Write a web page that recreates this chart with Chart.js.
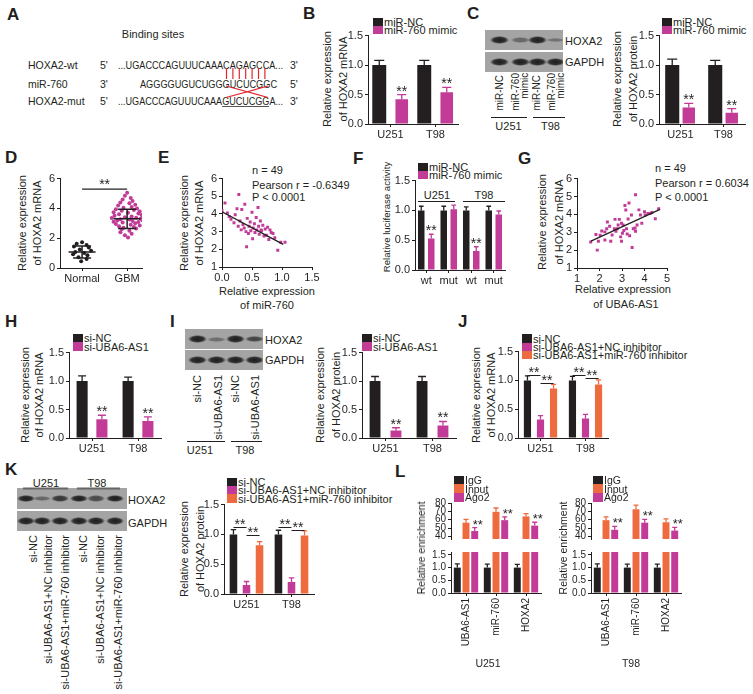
<!DOCTYPE html>
<html>
<head>
<meta charset="utf-8">
<script src="https://cdn.jsdelivr.net/npm/chart.js@4.4.1/dist/chart.umd.min.js"></script>
<style>
  html, body { margin: 0; background: #fff; }
  #fig { position: relative; width: 753px; height: 694px; overflow: hidden;
         font-family: "Liberation Sans", Arial, Helvetica, sans-serif; font-size: 11px; color: #231f20; }
  #fig canvas, #fig svg { position: absolute; left: 0; top: 0; }
  .t { position: absolute; white-space: nowrap; line-height: 1; transform: translateY(-50%); }
  .t.c { transform: translate(-50%, -50%); }
  .t.pl { font-size: 17px; font-weight: bold; }
  .v { position: absolute; white-space: nowrap; text-align: center; transform: translate(-50%, -50%) rotate(-90deg); }
  .lane { position: absolute; white-space: nowrap; writing-mode: vertical-rl; transform: rotate(180deg); text-align: end; }
  .key { position: absolute; width: 10px; }
  .blot { position: absolute; background: #a4a4a4; overflow: hidden; }
  .band { position: absolute; border-radius: 50%; }
</style>
</head>
<body>
<div id="fig"></div>
<script>
// ── Werte ───────────────────────────────────────────────────────────────────
const cellLines = ['U251', 'T98'];

// B: HOXA2 mRNA nach miR-760 mimic
const bNC = [1.0, 1.0], bNCErr = [0.08, 0.08];
const bMimic = [0.42, 0.54], bMimicErr = [0.08, 0.08];

// C: HOXA2 Protein nach miR-760 mimic
const cNC = [1.0, 1.0], cNCErr = [0.10, 0.08];
const cMimic = [0.28, 0.19], cMimicErr = [0.07, 0.07];

// D: Normal vs. GBM (Einzelwerte, dx = seitliche Streuung im Dotplot)
const dNormal   = [1.72, 1.62, 1.55, 1.45, 1.38, 1.25, 1.15, 1.08, 1.00, 0.92, 0.85, 0.72, 0.60, 0.45];
const dNormalDx = [0.00, -0.12, 0.10, -0.18, 0.15, -0.05, 0.20, -0.15, 0.05, -0.20, 0.12, -0.08, 0.10, -0.02];
const dGBM   = [5.05, 4.85, 4.70, 4.60, 4.50, 4.40, 4.35, 4.25, 4.20, 4.10, 4.05, 4.00, 3.95, 3.90, 3.85, 3.80,
                3.75, 3.70, 3.65, 3.60, 3.55, 3.50, 3.45, 3.40, 3.38, 3.35, 3.30, 3.28, 3.25, 3.20, 3.18, 3.15,
                3.10, 3.08, 3.05, 3.00, 2.95, 2.90, 2.85, 2.80, 2.75, 2.70, 2.65, 2.60, 2.50, 2.40, 2.30, 2.20, 2.05];
const dGBMDx = [0.00, -0.05, 0.08, -0.10, 0.12, -0.15, 0.05, 0.18, -0.20, 0.10, -0.08, 0.22, -0.25, 0.15, -0.12, 0.28,
                -0.30, 0.02, 0.25, -0.18, 0.32, -0.28, 0.10, -0.05, 0.20, -0.34, 0.30, -0.15, 0.05, 0.34, -0.22, 0.12,
                -0.30, 0.25, -0.10, 0.18, -0.25, 0.08, 0.28, -0.18, 0.15, -0.08, 0.20, -0.12, 0.05, -0.15, 0.10, -0.05, 0.02];
const dMean = [1.07, 3.30], dSD = [0.40, 0.65];
const dSigY = 5.3;

// E: miR-760 vs HOXA2 (n = 49)
const eMiR = [0.00, 0.05, 0.09, 0.12, 0.15, 0.20, 0.22, 0.25, 0.28, 0.27, 0.30, 0.32, 0.33, 0.35, 0.37, 0.38, 0.40,
              0.41, 0.42, 0.44, 0.45, 0.47, 0.48, 0.50, 0.51, 0.52, 0.54, 0.55, 0.57, 0.58, 0.60, 0.61, 0.62, 0.64,
              0.65, 0.66, 0.68, 0.70, 0.72, 0.74, 0.76, 0.78, 0.80, 0.82, 0.85, 0.88, 0.93, 0.98, 1.05];
const eHOX = [4.20, 4.62, 4.05, 3.85, 3.70, 3.50, 3.95, 4.30, 5.10, 3.30, 3.60, 3.10, 4.25, 3.40, 3.20, 4.55, 3.00,
              2.15, 3.75, 2.90, 3.30, 3.55, 3.05, 4.10, 2.60, 3.20, 3.45, 2.95, 3.80, 3.10, 4.37, 3.30, 2.85, 3.60,
              3.10, 3.05, 3.36, 2.75, 3.15, 2.80, 3.25, 2.55, 3.10, 2.95, 2.90, 2.65, 1.95, 2.40, 2.40];
const eFitX = [0, 1.02], eFitY = [4.12, 2.28];

// F: Luciferase
const fCats = ['wt', 'mut', 'wt', 'mut'];
const fNC = [1.0, 1.0, 1.0, 1.0], fNCErr = [0.07, 0.07, 0.06, 0.07];
const fMimic = [0.53, 1.02, 0.32, 0.93], fMimicErr = [0.07, 0.07, 0.07, 0.06];

// G: UBA6-AS1 vs HOXA2 (n = 49)
const gUBA = [1.61, 1.84, 1.90, 1.95, 2.10, 2.24, 2.24, 2.32, 2.35, 2.45, 2.50, 2.69, 2.73, 2.79, 2.83, 2.88, 2.94,
              2.98, 3.02, 3.05, 3.08, 3.13, 3.17, 3.20, 3.23, 3.27, 3.31, 3.34, 3.45, 3.50, 3.58, 3.60, 3.60, 3.67,
              3.75, 3.82, 3.88, 4.03, 4.15, 4.25, 4.33, 4.48, 4.63, 2.56, 2.66, 2.98, 2.03, 3.42, 4.00];
const gHOX = [2.46, 2.87, 2.00, 2.50, 3.07, 3.02, 2.56, 3.20, 3.57, 3.33, 2.50, 3.72, 3.05, 3.20, 3.40, 3.72, 2.74,
              2.50, 2.94, 3.40, 3.10, 4.50, 4.24, 3.20, 2.90, 3.74, 4.63, 2.80, 2.15, 3.20, 3.24, 3.05, 5.10, 3.40,
              4.25, 3.97, 3.50, 3.97, 4.05, 4.05, 4.10, 3.75, 4.32, 2.85, 3.20, 3.50, 2.83, 3.97, 4.15];
const gFitX = [1.62, 4.69], gFitY = [2.50, 4.28];

// H / I: si-UBA6-AS1
const hNC = [1.0, 1.0], hNCErr = [0.09, 0.07];
const hSi = [0.33, 0.30], hSiErr = [0.07, 0.07];
const iNC = [1.0, 1.0], iNCErr = [0.08, 0.08];
const iSi = [0.13, 0.22], iSiErr = [0.05, 0.07];

// J / K: Rescue mit miR-760 inhibitor
const jNC = [1.0, 1.0], jNCErr = [0.08, 0.07];
const jSiNC = [0.32, 0.34], jSiNCErr = [0.07, 0.07];
const jSiMiR = [0.86, 0.93], jSiMiRErr = [0.07, 0.08];
const jSig = [[0, 0, 1, 1.10], [0, 1, 2, 0.95], [1, 0, 1, 1.10], [1, 1, 2, 1.04]];   // [Kategorie, von, bis, Hoehe]
const kNC = [1.0, 1.0], kNCErr = [0.08, 0.07];
const kSiNC = [0.15, 0.20], kSiNCErr = [0.06, 0.07];
const kSiMiR = [0.82, 0.98], kSiMiRErr = [0.06, 0.08];
const kSig = [[0, 0, 1, 1.13], [0, 1, 2, 0.99], [1, 0, 1, 1.13], [1, 1, 2, 1.07]];

// L: RIP
const lTargets = ['UBA6-AS1', 'miR-760', 'HOXA2'];
const lU251IgG = [1, 1, 1], lU251IgGErr = [0.15, 0.14, 0.13];
const lU251Input = [56.5, 69.5, 64.0], lU251InputErr = [4.0, 4.5, 3.3];
const lU251Ago2 = [46.5, 59.5, 53.0], lU251Ago2Err = [4.0, 4.0, 4.0];
const lT98IgG = [1, 1, 1], lT98IgGErr = [0.15, 0.14, 0.14];
const lT98Input = [59.5, 72.5, 57.0], lT98InputErr = [4.0, 5.0, 4.0];
const lT98Ago2 = [48.0, 56.5, 47.0], lT98Ago2Err = [4.0, 4.0, 4.0];

// Western Blots: relative Bandenstaerke je Spur
const blotC = { HOXA2: [0.95, 0.45, 0.95, 0.38], GAPDH: [0.95, 0.95, 0.95, 0.95] };
const blotI = { HOXA2: [0.95, 0.40, 0.95, 0.70], GAPDH: [0.95, 0.95, 0.95, 0.95] };
const blotK = { HOXA2: [0.95, 0.45, 0.80, 0.95, 0.65, 0.95], GAPDH: [0.95, 0.95, 0.95, 0.95, 0.95, 0.95] };

// ── Stil ────────────────────────────────────────────────────────────────────
const INK = '#231f20', PINK = '#c13b97', ORNG = '#ee6b3f', RED = '#e3262c';
const FONT = '"Liberation Sans", Arial, Helvetica, sans-serif';
Chart.defaults.font.family = FONT;
Chart.defaults.font.size = 11;
Chart.defaults.color = INK;

const fig = document.getElementById('fig');

// ── Hilfen fuer Text und Deko ───────────────────────────────────────────────
function T(s, x, y, o = {}) {
  const d = document.createElement('div');
  d.className = 't' + (o.c ? ' c' : '') + (o.b ? ' pl' : '');
  d.style.left = x + 'px'; d.style.top = y + 'px';
  if (o.fs) d.style.fontSize = o.fs + 'px';
  d.innerHTML = s;
  fig.appendChild(d);
  if (o.w) {   // auf Zielbreite strecken (Sequenzen)
    const w = d.getBoundingClientRect().width;
    d.style.transformOrigin = 'left center';
    d.style.transform = `translateY(-50%) scaleX(${o.w / w})`;
  }
  return d;
}
function V(s, cx, cy, lh, fs = 11) {
  const d = document.createElement('div');
  d.className = 'v';
  d.style.cssText = `left:${cx}px;top:${cy}px;line-height:${lh}px;font-size:${fs}px`;
  d.innerHTML = s;
  fig.appendChild(d);
}
function lane(s, cx, ytop, fs, lh) {
  const parts = s.split('\n');
  const d = document.createElement('div');
  d.className = 'lane';
  d.style.cssText = `left:${cx - parts.length * lh / 2}px;top:${ytop}px;font-size:${fs}px;line-height:${lh}px`;
  d.innerHTML = parts.join('<br>');
  fig.appendChild(d);
}
function legend(x, y0, dy, items, fs = 11) {
  items.forEach(([col, s], i) => {
    const k = document.createElement('div');
    k.className = 'key';
    k.style.cssText = `left:${x}px;top:${y0 + i * dy - dy / 2}px;height:${dy}px;background:${col}`;
    fig.appendChild(k);
    T(s, x + 11, y0 + i * dy, { fs });
  });
}
function strip(x, y, w, h, centers, ks, bw) {
  const b = document.createElement('div');
  b.className = 'blot';
  b.style.cssText = `left:${x}px;top:${y}px;width:${w}px;height:${h}px`;
  centers.forEach((cx, i) => {
    const k = ks[i], bh = 3 + 5 * k;
    const e = document.createElement('div');
    e.className = 'band';
    e.style.cssText = `left:${cx - x - bw / 2}px;top:${h / 2 - bh / 2}px;width:${bw}px;height:${bh}px;` +
      `background:radial-gradient(ellipse at center, rgba(22,20,20,${k}) 0%, rgba(22,20,20,${k * 0.85}) 45%, rgba(22,20,20,0) 72%)`;
    b.appendChild(e);
  });
  fig.appendChild(b);
}

// ── Chart-Hilfen ────────────────────────────────────────────────────────────
// Fehlerbalken (nur nach oben), ** ueber dem Balken, Signifikanz-Klammern.
const marks = {
  id: 'marks',
  afterDatasetsDraw(ch, args, o) {
    const { ctx, chartArea: a, scales } = ch;
    ctx.save();
    // nur oben/unten beschneiden (gebrochene Achse), seitlich Platz fuer die Sterne
    if (o.clip) { ctx.beginPath(); ctx.rect(0, a.top - 1, ch.width, a.bottom - a.top + 1); ctx.clip(); }
    const star = (x, y) => {
      ctx.fillStyle = INK; ctx.font = `${o.starSize || 14}px ${FONT}`;
      ctx.textAlign = 'center'; ctx.textBaseline = 'alphabetic';
      ctx.fillText('**', x, y + 2);
    };
    ch.data.datasets.forEach((ds, i) => {
      if (!ds.err) return;
      ch.getDatasetMeta(i).data.forEach((b, j) => {
        const top = scales.y.getPixelForValue(ds.data[j] + ds.err[j]);
        const hw = b.width * 0.36;
        ctx.strokeStyle = ds.backgroundColor; ctx.lineWidth = 1.3;
        ctx.beginPath();
        ctx.moveTo(b.x, b.y); ctx.lineTo(b.x, top);
        ctx.moveTo(b.x - hw, top); ctx.lineTo(b.x + hw, top);
        ctx.stroke();
        if (ds.star && ds.star[j]) star(b.x + (o.starDx || 0), top - 1);
      });
    });
    (o.sig || []).forEach(([c, d1, d2, v]) => {
      const x1 = ch.getDatasetMeta(d1).data[c].x, x2 = ch.getDatasetMeta(d2).data[c].x;
      const y = Math.round(scales.y.getPixelForValue(v)) + 0.5;
      ctx.strokeStyle = INK; ctx.lineWidth = 1;
      ctx.beginPath(); ctx.moveTo(x1, y); ctx.lineTo(x2, y); ctx.stroke();
      star((x1 + x2) / 2, y - 1);
    });
    (o.stars || []).forEach(([x, v]) => star(scales.x.getPixelForValue(x), scales.y.getPixelForValue(v) - 2));
    ctx.restore();
  },
};

function axisStyle(fs) {
  return {
    grid: { display: true, drawOnChartArea: false, drawTicks: true, tickLength: 3, color: INK, lineWidth: 1, offset: false },
    border: { display: true, color: INK, width: 1 },
    ticks: { font: { size: fs, family: FONT }, color: INK, autoSkip: false },
  };
}

function plot(o) {
  const yw = o.yw ?? 26, xh = o.xh ?? 18, pt = o.pt ?? 8, pr = o.pr ?? 4, fs = o.fs || 11;
  const L = Math.round(o.ax - yw), Tp = Math.round(o.top - pt);
  const cv = document.createElement('canvas');
  cv.width = Math.round(o.right + pr - L);
  cv.height = Math.round(o.bot + xh - Tp);
  cv.style.left = L + 'px'; cv.style.top = Tp + 'px';
  fig.appendChild(cv);

  const xs = axisStyle(fs), ys = axisStyle(fs);
  const x = Object.assign(xs, { display: xh > 0, afterFit: s => { s.height = xh; } });
  x.ticks.padding = o.xPad ?? 1;
  if (o.x && o.x.type === 'linear') {
    Object.assign(x, { type: 'linear', min: o.x.min, max: o.x.max,
      afterBuildTicks: s => { s.ticks = o.x.ticks.map(v => ({ value: v })); } });
    x.ticks.callback = o.x.cb || (v => v.toFixed(o.x.dec ?? 0));
  } else {
    x.ticks.maxRotation = x.ticks.minRotation = (o.rot || 0);
  }
  const y = Object.assign(ys, { type: 'linear', min: o.y.min, max: o.y.max,
    afterFit: s => { s.width = yw; },
    afterBuildTicks: s => { s.ticks = o.y.ticks.map(v => ({ value: v })); } });
  y.ticks.padding = 2;
  y.ticks.callback = v => v.toFixed(o.y.dec ?? 0);

  return new Chart(cv, {
    type: o.type || 'bar',
    data: { labels: o.labels, datasets: o.sets },
    options: {
      responsive: false, animation: false, events: [],
      layout: { padding: { left: 0, top: pt, right: pr, bottom: 0 } },
      plugins: { legend: { display: false }, tooltip: { enabled: false }, marks: o.marks || {} },
      scales: { x, y },
    },
    plugins: [marks],
  });
}

function bars(data, err, col, cp, bp, star) {
  return { data, err, star, backgroundColor: col, borderWidth: 0,
           categoryPercentage: cp, barPercentage: bp, clip: 0 };
}
const pts = (xv, yv, col, r, style) => ({ type: 'scatter', data: xv.map((v, i) => ({ x: v, y: yv[i] })),
  backgroundColor: col, borderWidth: 0, pointRadius: r, pointStyle: style, order: 2 });
const seg = (xv, yv, w = 1.3) => ({ type: 'line', data: xv.map((v, i) => ({ x: v, y: yv[i] })),
  borderColor: INK, borderWidth: w, pointRadius: 0, fill: false, order: 0 });
const yFrac = { min: 0, max: 1.5, ticks: [0, 0.5, 1, 1.5], dec: 1 };

// ── A ───────────────────────────────────────────────────────────────────────
T('A', 7, 14, { b: 1 });
T('Binding sites', 153, 33.5, { c: 1, fs: 11 });
[['HOXA2-wt', "5'", '...UGACCCAGUUUCAAACAGAGCCA...', 118, 165, "3'", 64.5],
 ['miR-760', "3'", 'AGGGGUGUCUGGGUCUCGGC', 140, 137, "5'", 84],
 ['HOXA2-mut', "5'", '...UGACCCAGUUUCAAAGUCUCGGA...', 118, 165, "3'", 100.5]].forEach(r => {
  T(r[0], 28, r[6], { fs: 10.5 });
  T(r[1], 100, r[6], { fs: 10.5 });
  T(r[2], r[3], r[6], { fs: 10.5, w: r[4] });
  T(r[5], 290, r[6], { fs: 10.5 });
});

// ── B / C ───────────────────────────────────────────────────────────────────
T('B', 303, 12.5, { b: 1 });
legend(373, 22, 8.3, [[INK, 'miR-NC'], [PINK, 'miR-760 mimic']]);
V('Relative expression<br>of HOXA2 mRNA', 335, 79, 15.5);
plot({ ax: 368, top: 35, bot: 124.3, right: 458, labels: cellLines, y: yFrac,
  sets: [bars(bNC, bNCErr, INK, 1.0, 0.62), bars(bMimic, bMimicErr, PINK, 1.0, 0.56, [1, 1])] });

T('C', 467, 12.5, { b: 1 });
strip(485, 30, 78, 20, [499, 520, 537, 555], blotC.HOXA2, 19);
strip(485, 52, 78, 20, [499, 520, 537, 555], blotC.GAPDH, 19);
T('HOXA2', 565, 41); T('GAPDH', 565, 61.5);
lane('miR-NC', 499, 75, 10, 9);
lane('miR-760\nmimic', 520, 73, 10, 8.5);
lane('miR-NC', 536, 75, 10, 9);
lane('miR-760\nmimic', 556, 73, 10, 8.5);
T('U251', 508.5, 126, { c: 1 }); T('T98', 550.5, 126, { c: 1 });
legend(662, 22, 8.3, [[INK, 'miR-NC'], [PINK, 'miR-760 mimic']]);
V('Relative expression<br>of HOXA2 protein', 625, 79, 16);
plot({ ax: 659, top: 35, bot: 124.3, right: 745, labels: cellLines, y: yFrac,
  sets: [bars(cNC, cNCErr, INK, 0.77, 0.85), bars(cMimic, cMimicErr, PINK, 0.77, 0.75, [1, 1])] });

// ── D ───────────────────────────────────────────────────────────────────────
T('D', 5, 156.5, { b: 1 });
V('Relative expression<br>of HOXA2 mRNA', 30, 223, 15);
const msLines = (cx, m, sd) => [
  seg([cx - 0.3, cx + 0.3], [m, m], 1.5), seg([cx - 0.2, cx + 0.2], [m + sd, m + sd], 1.5),
  seg([cx - 0.2, cx + 0.2], [m - sd, m - sd], 1.5), seg([cx, cx], [m - sd, m + sd], 1.5)];
plot({ type: 'scatter', ax: 60, top: 178, bot: 268, right: 142, xh: 20,
  x: { type: 'linear', min: 0.51, max: 2.33, ticks: [1, 2], cb: v => ({ 1: 'Normal', 2: 'GBM' })[v] },
  y: { min: 0, max: 6, ticks: [0, 2, 4, 6] },
  sets: [...msLines(1, dMean[0], dSD[0]), ...msLines(2, dMean[1], dSD[1]), seg([1, 2], [dSigY, dSigY], 1.2),
    pts(dNormal.map((v, i) => 1 + dNormalDx[i]), dNormal, INK, 2, 'circle'),
    pts(dGBM.map((v, i) => 2 + dGBMDx[i]), dGBM, PINK, 2, 'circle')],
  marks: { stars: [[1.5, dSigY]] } });

// ── E ───────────────────────────────────────────────────────────────────────
T('E', 158, 156.5, { b: 1 });
V('Relative expression<br>of HOXA2 mRNA', 191.5, 222.5, 15);
T('n = 49', 252, 170); T('Pearson r = -0.6349', 252, 185); T('P &lt; 0.0001', 252, 197);
T('Relative expression', 267, 291, { c: 1 }); T('of miR-760', 267, 305, { c: 1 });
plot({ type: 'scatter', ax: 222, top: 178, bot: 267, right: 312, pr: 10,
  x: { type: 'linear', min: 0, max: 1.5, ticks: [0, 0.5, 1, 1.5], dec: 1 },
  y: { min: 1, max: 6, ticks: [1, 2, 3, 4, 5, 6] },
  sets: [seg(eFitX, eFitY), pts(eMiR, eHOX, PINK, 2.1, 'rect')] });

// ── F ───────────────────────────────────────────────────────────────────────
T('F', 353, 157.5, { b: 1 });
V('Relative luciferase activity', 387, 217, 12, 9.6);
legend(418, 166.5, 8, [[INK, 'miR-NC'], [PINK, 'miR-760 mimic']]);
T('U251', 437, 194.5, { c: 1 }); T('T98', 484, 194.5, { c: 1 });
plot({ ax: 415, top: 180, bot: 270, right: 505, labels: fCats, y: yFrac,
  sets: [bars(fNC, fNCErr, INK, 0.89, 0.65), bars(fMimic, fMimicErr, PINK, 0.89, 0.65, [1, 0, 1, 0])] });

// ── G ───────────────────────────────────────────────────────────────────────
T('G', 518, 157.5, { b: 1 });
V('Relative expression<br>of HOXA2 mRNA', 550, 222, 16.5);
T('n = 49', 655, 168); T('Pearson r = 0.6034', 655, 183); T('P &lt; 0.0001', 655, 197);
T('Relative expression', 623, 289, { c: 1 }); T('of UBA6-AS1', 626, 304, { c: 1 });
plot({ type: 'scatter', ax: 577, top: 178, bot: 268, right: 667, pr: 10,
  x: { type: 'linear', min: 1, max: 5, ticks: [1, 2, 3, 4, 5] },
  y: { min: 1, max: 6, ticks: [1, 2, 3, 4, 5, 6] },
  sets: [seg(gFitX, gFitY), pts(gUBA, gHOX, PINK, 2.1, 'rect')] });

// ── H ───────────────────────────────────────────────────────────────────────
T('H', 5, 321, { b: 1 });
legend(73, 338, 8.5, [[INK, 'si-NC'], [PINK, 'si-UBA6-AS1']]);
V('Relative expression<br>of HOXA2 mRNA', 31.5, 395, 14);
plot({ ax: 69, top: 352, bot: 438, right: 161, labels: cellLines, y: yFrac,
  sets: [bars(hNC, hNCErr, INK, 0.86, 0.56), bars(hSi, hSiErr, PINK, 0.86, 0.56, [1, 1])] });

// ── I ───────────────────────────────────────────────────────────────────────
T('I', 170, 321, { b: 1 });
strip(185, 329, 78, 20, [197, 216, 235, 254], blotI.HOXA2, 19);
strip(185, 350, 78, 20, [197, 216, 235, 254], blotI.GAPDH, 19);
T('HOXA2', 265, 340); T('GAPDH', 265, 360);
['si-NC', 'si-UBA6-AS1', 'si-NC', 'si-UBA6-AS1'].forEach((s, i) => lane(s, [197, 218, 235, 255][i], 375, 11, 11));
T('U251', 200, 450, { c: 1 }); T('T98', 245, 450, { c: 1 });
legend(362, 338, 8.5, [[INK, 'si-NC'], [PINK, 'si-UBA6-AS1']]);
V('Relative expression<br>of HOXA2 protein', 328, 395, 16);
plot({ ax: 362, top: 352, bot: 438, right: 456, labels: cellLines, y: yFrac,
  sets: [bars(iNC, iNCErr, INK, 0.89, 0.52), bars(iSi, iSiErr, PINK, 0.89, 0.52, [1, 1])] });

// ── J ───────────────────────────────────────────────────────────────────────
T('J', 458, 321, { b: 1 });
legend(522, 338.5, 8.3, [[INK, 'si-NC'], [PINK, 'si-UBA6-AS1+NC inhibitor'], [ORNG, 'si-UBA6-AS1+miR-760 inhibitor']]);
V('Relative expression<br>of HOXA2 mRNA', 483.5, 394.5, 15);
plot({ ax: 518, top: 351, bot: 438, right: 608, labels: cellLines, y: yFrac,
  sets: [bars(jNC, jNCErr, INK, 0.87, 0.55), bars(jSiNC, jSiNCErr, PINK, 0.87, 0.55),
         bars(jSiMiR, jSiMiRErr, ORNG, 0.87, 0.55)],
  marks: { sig: jSig } });

// ── K ───────────────────────────────────────────────────────────────────────
T('K', 5, 469, { b: 1 });
strip(17, 488, 110, 21, [25.5, 41.5, 60, 78.5, 95.5, 115], blotK.HOXA2, 18);
strip(17, 511, 110, 20, [25.5, 41.5, 60, 78.5, 95.5, 115], blotK.GAPDH, 18);
T('HOXA2', 128, 500); T('GAPDH', 128, 523);
T('U251', 46, 482.5, { c: 1 }); T('T98', 97, 482.5, { c: 1 });
['si-NC', 'si-UBA6-AS1+NC inhibitor', 'si-UBA6-AS1+miR-760 inhibitor'].concat(
 ['si-NC', 'si-UBA6-AS1+NC inhibitor', 'si-UBA6-AS1+miR-760 inhibitor'])
  .forEach((s, i) => lane(s, [33, 48, 65, 83, 100, 118][i], 535, 11, 11));
legend(227, 482, 8.3, [[INK, 'si-NC'], [PINK, 'si-UBA6-AS1+NC inhibitor'], [ORNG, 'si-UBA6-AS1+miR-760 inhibitor']]);
V('Relative expression<br>of HOXA2 protein', 192, 548.5, 16);
plot({ ax: 224, top: 503.5, bot: 593.5, right: 314, labels: cellLines, y: yFrac,
  sets: [bars(kNC, kNCErr, INK, 0.87, 0.58), bars(kSiNC, kSiNCErr, PINK, 0.87, 0.58),
         bars(kSiMiR, kSiMiRErr, ORNG, 0.87, 0.58)],
  marks: { sig: kSig } });

// ── L (gebrochene Achse: 40–80 oben, 0–1.5 unten) ───────────────────────────
T('L', 395, 471, { b: 1 });
function rip(ax, igg, iggE, inp, inpE, ago, agoE) {
  const sets = () => [bars(igg, iggE, INK, 0.87, 0.8), bars(inp, inpE, ORNG, 0.87, 0.8),
                      bars(ago, agoE, PINK, 0.87, 0.8, [1, 1, 1])];
  plot({ ax, top: 503, bot: 547, right: ax + 90, xh: 0, pr: 12, fs: 10, labels: lTargets,
    y: { min: 37, max: 80, ticks: [40, 50, 60, 70, 80] }, sets: sets(),
    marks: { clip: 1, starDx: 3, starSize: 13 } });
  plot({ ax, top: 550, bot: 593, right: ax + 90, pt: 6, xh: 62, fs: 10, labels: lTargets, rot: 90, xPad: 2,
    y: { min: 0, max: 1.615, ticks: [0, 0.5, 1, 1.5], dec: 1 }, sets: sets().map(s => (s.star = null, s)),
    marks: { clip: 1 } });
}
rip(451, lU251IgG, lU251IgGErr, lU251Input, lU251InputErr, lU251Ago2, lU251Ago2Err);
rip(591, lT98IgG, lT98IgGErr, lT98Input, lT98InputErr, lT98Ago2, lT98Ago2Err);
legend(454, 480, 8.7, [[INK, 'IgG'], [ORNG, 'Input'], [PINK, 'Ago2']], 10.5);
legend(593, 480, 8.7, [[INK, 'IgG'], [ORNG, 'Input'], [PINK, 'Ago2']], 10.5);
V('Relative enrichment', 421, 548, 12, 10.5);
V('Relative enrichment', 562.5, 548, 12, 10.5);
T('U251', 488, 663, { c: 1, fs: 10.5 }); T('T98', 631, 663, { c: 1, fs: 10.5 });

// ── Linien: Basenpaarung, Unterstreichungen, Gruppenbalken ──────────────────
const NS = 'http://www.w3.org/2000/svg';
const svg = document.createElementNS(NS, 'svg');
svg.setAttribute('width', 753); svg.setAttribute('height', 694);
const ln = (x1, y1, x2, y2, col = INK, w = 1) => {
  const l = document.createElementNS(NS, 'line');
  Object.entries({ x1, y1, x2, y2, stroke: col, 'stroke-width': w }).forEach(([k, v]) => l.setAttribute(k, v));
  svg.appendChild(l);
};
for (let k = 0; k < 7; k++) ln(226.5 + k * 6.4, 68, 226.5 + k * 6.4, 79, RED, 1.2);
ln(226, 86, 268, 97.5, RED, 1.2); ln(226, 97.5, 268, 86, RED, 1.2);
ln(222, 106.5, 269, 106.5, '#555', 1);
ln(491, 117.5, 527, 117.5); ln(533, 117.5, 565, 117.5);
ln(418, 201.5, 455, 201.5); ln(463, 201.5, 505, 201.5);
ln(187, 441.5, 225, 441.5); ln(231, 441.5, 262, 441.5);
ln(23, 488.5, 68, 488.5, '#666', 2); ln(77, 488.5, 120, 488.5, '#666', 2);
fig.appendChild(svg);
</script>
</body>
</html>
